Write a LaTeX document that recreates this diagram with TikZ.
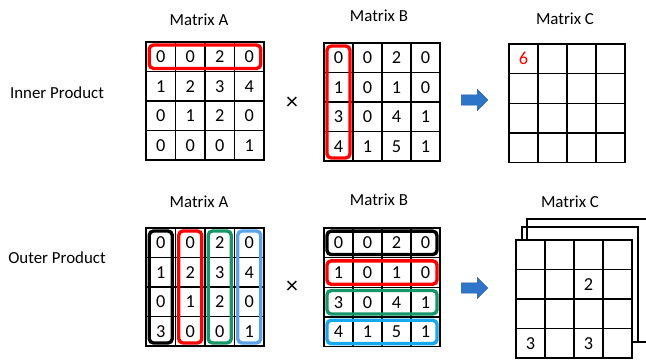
\documentclass[tikz,border=0pt]{standalone}
\usepackage{fontspec}
\setmainfont{Carlito}
\usetikzlibrary{fit,shapes.arrows}

\definecolor{hlred}{RGB}{255,0,0}
\definecolor{hlgreen}{RGB}{22,150,105}
\definecolor{hlblue}{RGB}{91,163,230}
\definecolor{hlcyan}{RGB}{20,170,235}
\definecolor{arrowblue}{RGB}{46,117,201}
\definecolor{arrowedge}{RGB}{32,90,165}

\tikzset{
  cell/.style={draw, line width=1pt, minimum width=0.73cm, minimum height=0.74cm,
    inner sep=0pt, outer sep=0pt, font=\fontsize{13pt}{15pt}\selectfont},
  hl/.style={draw, rounded corners=3pt, line width=2.4pt, inner sep=-2.2pt},
  bigarrow/.style={single arrow, fill=arrowblue, draw=arrowedge, line width=0.4pt,
    inner xsep=0pt, inner ysep=0.12cm, minimum height=0.66cm,
    single arrow head extend=0.13cm},
  times/.style={font=\fontsize{17pt}{19pt}\selectfont},
  sheet/.style={draw, line width=1pt}
}

\begin{document}
\begin{tikzpicture}[x=0.025cm,y=-0.025cm,font=\fontsize{12pt}{14pt}\selectfont]
  \useasboundingbox (0,0) rectangle (646,360);

  \node (inner) at (57,93) {Inner Product};
  \node (outer) at (57,258) {Outer Product};

  % inner product: one row of A against one column of B
  \node (ia-title) at (199,20) {Matrix A};
  \foreach \row [count=\i] in {{0,0,2,0},{1,2,3,4},{0,1,2,0},{0,0,0,1}}
    \foreach \v [count=\j] in \row
      \node[cell] (ia-\i-\j) at ({146+29.5*(\j-0.5)},{42+29.5*(\i-0.5)}) {\v};
  \node[hl,draw=hlred,fit=(ia-1-1)(ia-1-4)] (ia-row) {};

  \node[times] (itimes) at (292,103) {×};

  \node (ib-title) at (379,16) {Matrix B};
  \foreach \row [count=\i] in {{0,0,2,0},{1,0,1,0},{3,0,4,1},{4,1,5,1}}
    \foreach \v [count=\j] in \row
      \node[cell] (ib-\i-\j) at ({324+29*(\j-0.5)},{43+29.5*(\i-0.5)}) {\v};
  \node[hl,draw=hlred,fit=(ib-1-1)(ib-4-1)] (ib-col) {};

  \node[bigarrow] (iarrow) at (472,100) {};

  \node (ic-title) at (565,19) {Matrix C};
  \foreach \i in {1,...,4}
    \foreach \j in {1,...,4}
      \node[cell] (ic-\i-\j) at ({509+29*(\j-0.5)},{44+29.7*(\i-0.5)}) {};
  \node[cell,draw=none,text=hlred] (ic-val) at (ic-1-1) {6};

  % outer product: columns of A against rows of B
  \node (oa-title) at (199,202) {Matrix A};
  \foreach \row [count=\i] in {{0,0,2,0},{1,2,3,4},{0,1,2,0},{3,0,0,1}}
    \foreach \v [count=\j] in \row
      \node[cell] (oa-\i-\j) at ({146+29.5*(\j-0.5)},{228+29.5*(\i-0.5)}) {\v};
  \foreach \j/\c in {1/black,2/hlred,3/hlgreen,4/hlblue}
    \node[hl,draw=\c,fit=(oa-1-\j)(oa-4-\j)] (oa-col-\j) {};

  \node[times] (otimes) at (292,287) {×};

  \node (ob-title) at (379,200) {Matrix B};
  \foreach \row [count=\i] in {{0,0,2,0},{1,0,1,0},{3,0,4,1},{4,1,5,1}}
    \foreach \v [count=\j] in \row
      \node[cell] (ob-\i-\j) at ({324+29*(\j-0.5)},{228+29.7*(\i-0.5)}) {\v};
  \foreach \i/\c in {1/black,2/hlred,3/hlgreen,4/hlcyan}
    \node[hl,draw=\c,fit=(ob-\i-1)(ob-\i-4)] (ob-row-\i) {};

  \node[bigarrow] (oarrow) at (472,288) {};

  \node (oc-title) at (570,202) {Matrix C};
  % partial results stacked behind the front sheet
  \draw[sheet] (527,219) rectangle (660,342);
  \draw[sheet] (522,227) rectangle (638,342);
  \foreach \i in {1,...,4}
    \foreach \j in {1,...,4}
      \node[cell,fill=white] (oc-\i-\j) at ({516+29*(\j-0.5)},{240+29.5*(\i-0.5)}) {};
  \node[cell,draw=none] (oc-val1) at (oc-2-3) {2};
  \node[cell,draw=none] (oc-val2) at (oc-4-1) {3};
  \node[cell,draw=none] (oc-val3) at (oc-4-3) {3};
\end{tikzpicture}
\end{document}
